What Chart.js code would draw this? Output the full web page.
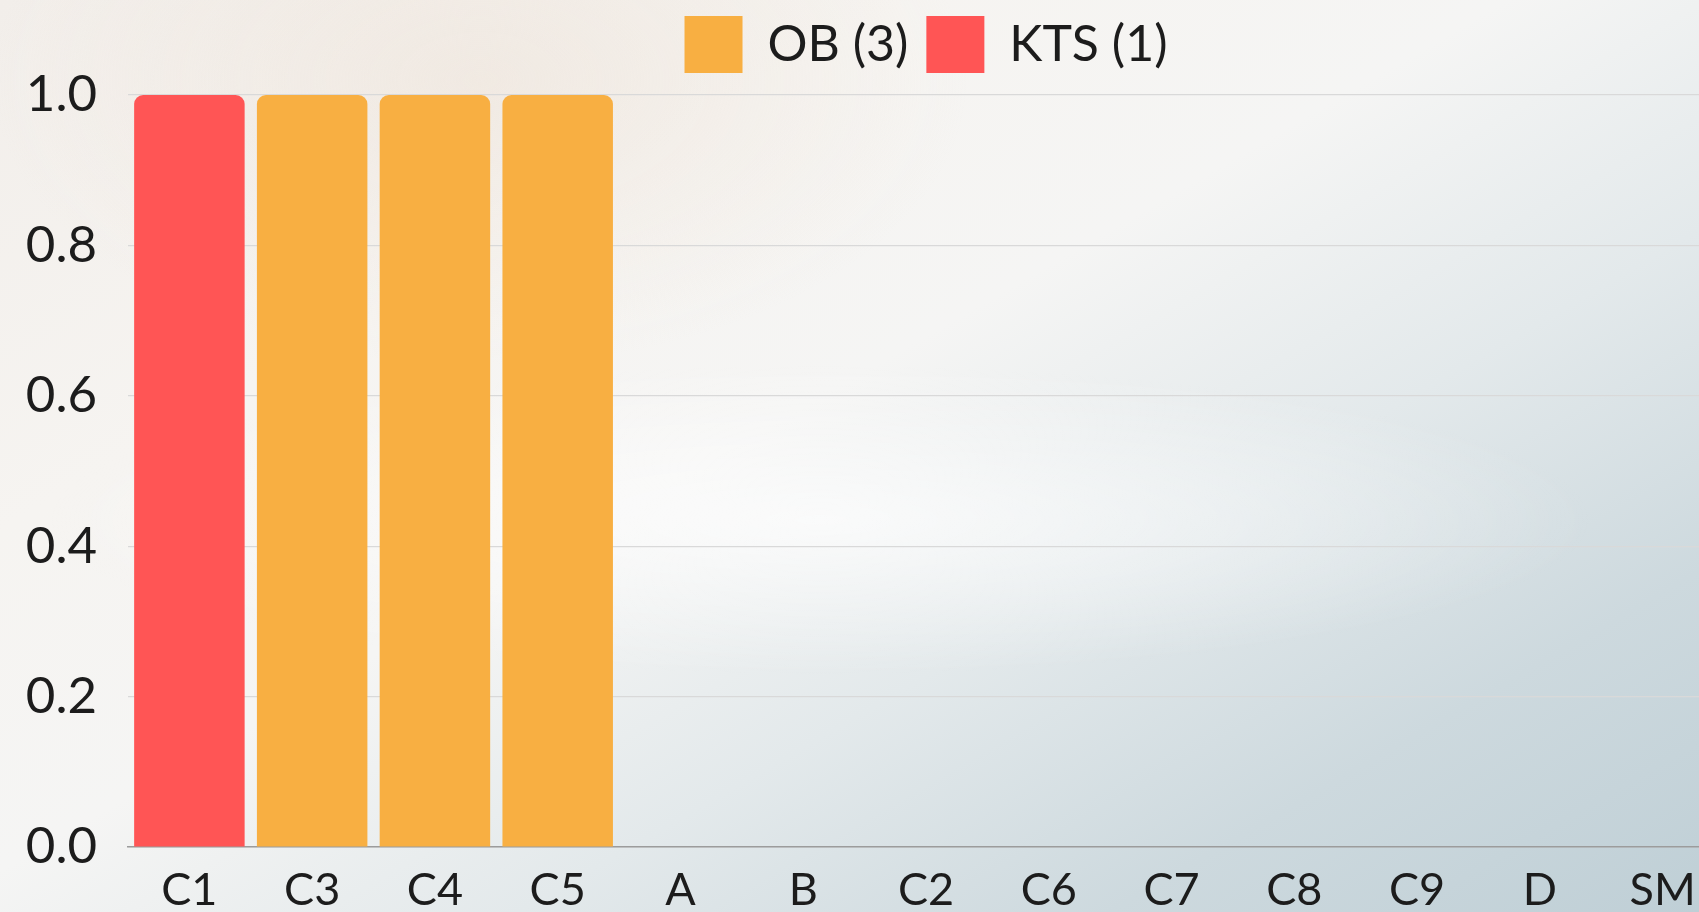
<!DOCTYPE html>
<html>
<head>
<meta charset="utf-8">
<title>OB / KTS</title>
<script src="https://cdn.jsdelivr.net/npm/chart.js@4/dist/chart.umd.min.js"></script>
<style>
  html, body {
    margin: 0;
    padding: 0;
    width: 1699px;
    height: 912px;
    overflow: hidden;
  }
  body {
    background:
      radial-gradient(ellipse 1100px 220px at 820px 520px, rgba(255,255,255,0.7), rgba(255,255,255,0) 70%),
      radial-gradient(ellipse 650px 380px at 480px 80px, rgba(238,228,218,0.6), rgba(238,228,218,0) 75%),
      linear-gradient(150deg, #f2eeea 0%, #f6f4f1 28%, #f5f5f4 46%, #e3e9eb 64%, #cdd9de 82%, #bfcfd6 100%);
  }
  #wrap {
    position: absolute;
    left: 0;
    top: 0;
    width: 1730px;
    height: 912px;
  }
</style>
</head>
<body>
<div id="wrap"><canvas id="chart"></canvas></div>
<script>
"use strict"

const categories = ["C1", "C3", "C4", "C5", "A", "B", "C2", "C6", "C7", "C8", "C9", "D", "SM"];
const obValues  = [0, 1, 1, 1, 0, 0, 0, 0, 0, 0, 0, 0, 0];
const ktsValues = [1, 0, 0, 0, 0, 0, 0, 0, 0, 0, 0, 0, 0];
const seriesNames = ["OB (3)", "KTS (1)"];
const yTicks = [0, 0.2, 0.4, 0.6, 0.8, 1.0];

const orange = "#f8af42";
const red = "#ff5555";

Chart.defaults.font.family = "Lato, 'Open Sans', sans-serif";
Chart.defaults.color = "#1c1c1c";

const barStyle = {
  barPercentage: 0.9,
  categoryPercentage: 1.0,
  borderRadius: { topLeft: 9, topRight: 9 },
  borderSkipped: "bottom"
};

// some extra room between the legend and the plot
const legendMargin = {
  id: "legendMargin",
  beforeInit(chart) {
    const fitLegend = chart.legend.fit;
    chart.legend.fit = function () {
      fitLegend.call(this);
      this.height += 12;
    };
  }
};

new Chart("chart", {
  type: "bar",
  data: {
    labels: categories,
    datasets: [
      Object.assign({ label: seriesNames[0], data: obValues, backgroundColor: orange }, barStyle),
      Object.assign({ label: seriesNames[1], data: ktsValues, backgroundColor: red }, barStyle)
    ]
  },
  plugins: [legendMargin],
  options: {
    responsive: true,
    maintainAspectRatio: false,
    animation: false,
    layout: {
      padding: { left: 0, right: 6, top: -2, bottom: 0 }
    },
    plugins: {
      tooltip: { enabled: false },
      legend: {
        position: "top",
        fullSize: false,
        labels: {
          boxWidth: 58,
          boxHeight: 57,
          padding: 18,
          font: { size: 50 }
        }
      }
    },
    scales: {
      x: {
        stacked: true,
        grid: { display: false, drawTicks: false },
        border: { display: true, color: "#9c9c9c", width: 1.5 },
        ticks: { padding: 16, font: { size: 45 }, maxRotation: 0, autoSkip: false },
        afterFit: axis => { axis.height = 65; }
      },
      y: {
        stacked: true,
        min: 0,
        max: 1,
        afterBuildTicks: axis => {
          axis.ticks = yTicks.map(v => ({ value: v }));
        },
        afterFit: axis => { axis.width = 128; },
        grid: { color: "#d9d9d9", lineWidth: 1.2, drawTicks: false },
        border: { display: false },
        ticks: {
          padding: 31,
          font: { size: 51 },
          callback: v => Number(v).toFixed(1)
        }
      }
    }
  }
});
</script>
</body>
</html>
